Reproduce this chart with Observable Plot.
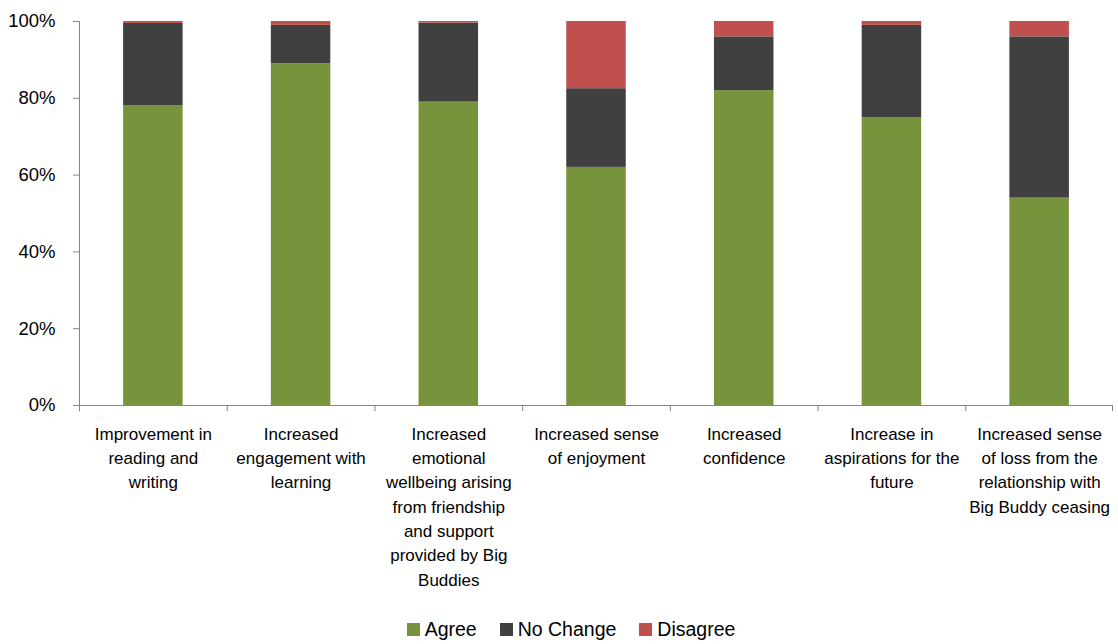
<!DOCTYPE html>
<html><head><meta charset="utf-8">
<script src="https://cdn.jsdelivr.net/npm/d3@7"></script>
<script src="https://cdn.jsdelivr.net/npm/@observablehq/plot@0.6"></script>
<style>
body{margin:0;background:#fff;font-family:"Liberation Sans",Arial,sans-serif;}
#legend{display:flex;justify-content:center;align-items:center;gap:23px;font-size:19.5px;color:#000;height:30px;padding-top:9px;padding-left:24px;}
#legend .item{display:flex;align-items:center;gap:5px;}
#legend .sw{width:13px;height:13px;display:inline-block;}
</style></head><body>
<div id="chart"></div>
<div id="legend"></div>
<script>
const categories = [
  "Improvement in reading and writing",
  "Increased engagement with learning",
  "Increased emotional wellbeing arising from friendship and support provided by Big Buddies",
  "Increased sense of enjoyment",
  "Increased confidence",
  "Increase in aspirations for the future",
  "Increased sense of loss from the relationship with Big Buddy ceasing"
];
const categoryLabels = [
  "Improvement in\nreading and\nwriting",
  "Increased\nengagement with\nlearning",
  "Increased\nemotional\nwellbeing arising\nfrom friendship\nand support\nprovided by Big\nBuddies",
  "Increased sense\nof enjoyment",
  "Increased\nconfidence",
  "Increase in\naspirations for the\nfuture",
  "Increased sense\nof loss from the\nrelationship with\nBig Buddy ceasing"
];
const series = ["Agree", "No Change", "Disagree"];
const agree    = [78, 89, 79, 62, 82, 75, 54];
const noChange = [21.5, 10, 20.6, 20.5, 14, 24, 42];
const disagree = [0.5, 1, 0.4, 17.5, 4, 1, 4];
const yTicks = [0, 20, 40, 60, 80, 100];
const colors = ["#77933C", "#404040", "#C0504D"];

const rows = [];
categories.forEach((c, i) => {
  rows.push({category: c, series: "Agree", value: agree[i]});
  rows.push({category: c, series: "No Change", value: noChange[i]});
  rows.push({category: c, series: "Disagree", value: disagree[i]});
});

const W = 1118, ML = 79, MR = 5;
const bw = (W - ML - MR) / categories.length;
const barW = 59.5;
const inset = (bw - barW) / 2;
const grey = "#868686";
const labelOf = new Map(categories.map((c, i) => [c, categoryLabels[i]]));

const chart = Plot.plot({
  width: W,
  height: 605,
  marginLeft: ML,
  marginRight: MR,
  marginTop: 21,
  marginBottom: 200,
  style: {fontFamily: "'Liberation Sans', Arial, sans-serif", background: "#fff"},
  x: {domain: categories, padding: 0, round: false, axis: null, label: null},
  y: {domain: [0, 100], axis: null, label: null},
  color: {domain: series, range: colors},
  marks: [
    Plot.barY(rows, Plot.stackY({x: "category", y: "value", fill: "series", insetLeft: inset, insetRight: inset})),
    Plot.ruleY([0], {stroke: grey}),
    // y axis line
    Plot.barY([categories[0]], {x: d => d, y1: -1.6, y2: 100, insetRight: bw - 1, fill: grey}),
    // category boundary ticks
    Plot.barY(categories, {x: d => d, y1: -1.6, y2: 0, insetRight: bw - 1, fill: grey}),
    Plot.barY([categories[categories.length - 1]], {x: d => d, y1: -1.6, y2: 0, insetLeft: bw - 1, fill: grey}),
    Plot.axisY({ticks: yTicks, tickFormat: d => d + "%", tickSize: 6, tickPadding: 18, stroke: grey, fill: "#000", fontSize: 18.5, label: null}),
    Plot.axisX({tickSize: 0, tickPadding: 17, tickFormat: d => labelOf.get(d), fill: "#000", fontSize: 17, lineHeight: 1.43, label: null})
  ]
});
document.getElementById("chart").append(chart);

const legend = document.getElementById("legend");
series.forEach((s, i) => {
  const item = document.createElement("span");
  item.className = "item";
  const sw = document.createElement("span");
  sw.className = "sw";
  sw.style.background = colors[i];
  item.append(sw, document.createTextNode(s));
  legend.append(item);
});
</script>
</body></html>
